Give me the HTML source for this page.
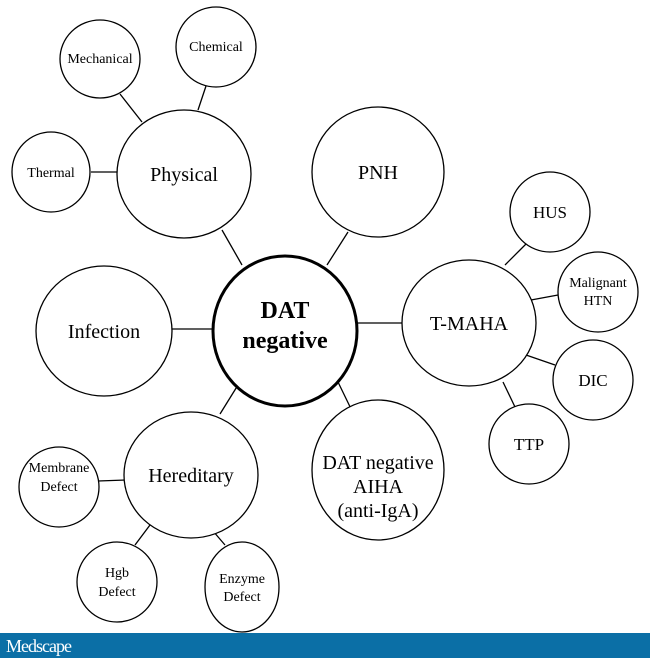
<!DOCTYPE html>
<html><head><style>body{margin:0;width:650px;height:658px;background:#fff;overflow:hidden}svg{display:block}</style></head><body>
<svg width="650" height="658" xmlns="http://www.w3.org/2000/svg" font-family="Liberation Serif, serif" text-anchor="middle">
<g stroke="#000" stroke-width="1.3" fill="none">
<line x1="222" y1="230" x2="242" y2="265"/><line x1="348" y1="232" x2="327" y2="265"/>
<line x1="172" y1="329" x2="212" y2="329"/><line x1="358" y1="323" x2="402" y2="323"/>
<line x1="220" y1="414" x2="238" y2="385"/><line x1="354" y1="415" x2="338" y2="382"/>
<line x1="120" y1="94" x2="142" y2="122"/><line x1="206" y1="86" x2="198" y2="110"/>
<line x1="91" y1="172" x2="117" y2="172"/><line x1="530" y1="240" x2="505" y2="265"/>
<line x1="558" y1="295" x2="531" y2="300"/><line x1="555" y1="365" x2="526" y2="355"/>
<line x1="515" y1="407" x2="503" y2="382"/><line x1="98" y1="481" x2="126" y2="480"/>
<line x1="135" y1="545" x2="150" y2="525"/><line x1="225" y1="545" x2="213" y2="531"/>
</g>
<g stroke="#000" stroke-width="1.3" fill="#fff">
<ellipse cx="184" cy="174" rx="67" ry="64"/>
<ellipse cx="100" cy="59" rx="40" ry="39"/>
<ellipse cx="216" cy="47" rx="40" ry="40"/>
<ellipse cx="51" cy="172" rx="39" ry="40"/>
<ellipse cx="378" cy="172" rx="66" ry="65"/>
<ellipse cx="104" cy="331" rx="68" ry="65"/>
<ellipse cx="469" cy="323" rx="67" ry="63"/>
<circle cx="550" cy="212" r="40"/><circle cx="598" cy="292" r="40"/>
<circle cx="593" cy="380" r="40"/><circle cx="529" cy="444" r="40"/>
<ellipse cx="191" cy="475" rx="67" ry="63"/>
<ellipse cx="378" cy="470" rx="66" ry="70"/>
<circle cx="59" cy="487" r="40"/><circle cx="117" cy="582" r="40"/>
<ellipse cx="242" cy="587" rx="37" ry="45"/>
<ellipse cx="285" cy="331" rx="72" ry="75" stroke-width="3"/>
</g>
<g font-size="20">
<text x="184" y="181">Physical</text><text x="378" y="179">PNH</text>
<text x="104" y="338">Infection</text><text x="469" y="330">T-MAHA</text>
<text x="191" y="482">Hereditary</text>
<text x="378" y="469">DAT negative</text><text x="378" y="493">AIHA</text><text x="378" y="517">(anti-IgA)</text>
</g>
<g font-size="17"><text x="550" y="218">HUS</text><text x="593" y="386">DIC</text><text x="529" y="450">TTP</text></g>
<g font-size="14">
<text x="100" y="63">Mechanical</text><text x="216" y="51">Chemical</text><text x="51" y="177">Thermal</text>
<text x="598" y="287">Malignant</text><text x="598" y="305">HTN</text>
<text x="59" y="472">Membrane</text><text x="59" y="491">Defect</text>
<text x="117" y="577">Hgb</text><text x="117" y="596">Defect</text>
<text x="242" y="583">Enzyme</text><text x="242" y="601">Defect</text>
</g>
<g font-size="24" font-weight="bold"><text x="285" y="318">DAT</text><text x="285" y="348">negative</text></g>
<rect x="0" y="633" width="650" height="25" fill="#0b6fa6"/>
<text x="6" y="652" font-size="18" fill="#fff" text-anchor="start" letter-spacing="-1">Medscape</text>
</svg>
</body></html>
